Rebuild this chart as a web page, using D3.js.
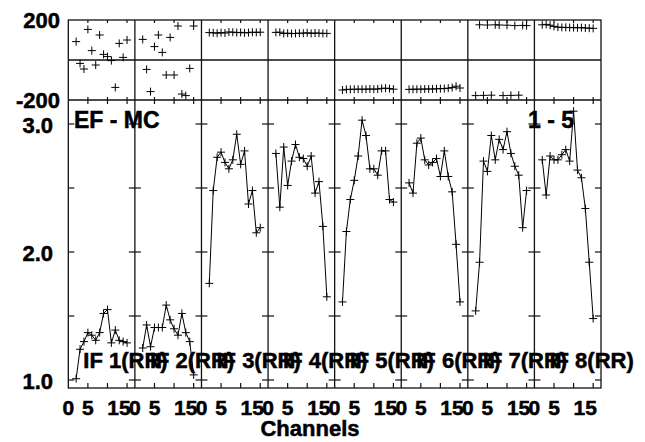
<!DOCTYPE html>
<html><head><meta charset="utf-8">
<script src="https://cdn.jsdelivr.net/npm/d3@7"></script>
<style>
body{margin:0;background:#fff}
svg text{font-family:"Liberation Sans",Arial,Helvetica,sans-serif;font-weight:bold;fill:#000;stroke:#000;stroke-width:0.5px}
</style>
</head><body>
<svg id="chart" width="645" height="442"></svg>
<script>
// ---- data ----
const channels = [2,3,4,5,6,7,8,9,10,11,12,13,14,15];
const ifNames = ["IF 1(RR)","IF 2(RR)","IF 3(RR)","IF 4(RR)","IF 5(RR)","IF 6(RR)","IF 7(RR)","IF 8(RR)"];
const phaseIF1 = [92,-17,-45,153,47,-25,125,28,17,-3,-137,83,13,100];
const phaseIF2 = [103,-47,-158,67,125,38,-75,113,-75,170,-170,-178,-42,170];
const phaseIF3 = [137,136,134,137,135,140,139,137,138,136,137,139,138,139];
const phaseIF4 = [138,139,133,134,132,133,134,134,136,133,135,134,133,133];
const phaseIF5 = [-150,-147,-147,-146,-146,-146,-146,-145,-146,-145,-142,-141,-143,-146];
const phaseIF6 = [-147,-146,-146,-146,-145,-145,-145,-144,-143,-143,-141,-138,-131,-140];
const phaseIF7 = [-178,176,-177,175,-176,176,175,-178,174,-177,172,-176,173,172];
const phaseIF8 = [176,178,174,168,164,163,163,162,162,161,162,160,159,158];
const ampIF1 = [1.01,1.24,1.30,1.37,1.35,1.31,1.37,1.52,1.55,1.29,1.39,1.31,1.30,1.29];
const ampIF2 = [1.25,1.43,1.26,1.41,1.41,1.41,1.585,1.47,1.40,1.35,1.52,1.37,1.30,1.04];
const ampIF3 = [1.755,2.48,2.74,2.78,2.70,2.65,2.72,2.92,2.685,2.79,2.375,2.48,2.15,2.19];
const ampIF4 = [2.77,2.35,2.82,2.52,2.71,2.84,2.74,2.73,2.67,2.75,2.46,2.55,2.20,1.65];
const ampIF5 = [1.61,2.16,2.41,2.56,2.75,3.03,2.91,2.65,2.65,2.60,2.79,2.79,2.41,2.39];
const ampIF6 = [2.54,2.46,2.85,2.89,2.72,2.68,2.70,2.73,2.59,2.79,2.59,2.47,2.06,1.61];
const ampIF7 = [1.54,1.92,2.71,2.63,2.91,2.72,2.88,2.80,2.94,2.77,2.67,2.60,2.19,2.48];
const ampIF8 = [2.72,2.445,2.75,2.72,2.72,2.76,2.80,2.71,3.10,2.64,2.58,2.34,1.92,1.48];
const phaseSeries = [phaseIF1,phaseIF2,phaseIF3,phaseIF4,phaseIF5,phaseIF6,phaseIF7,phaseIF8];
const ampSeries = [ampIF1,ampIF2,ampIF3,ampIF4,ampIF5,ampIF6,ampIF7,ampIF8];
const xTickValues = [5,10,15];
const xLabelValues = [0,5,15];
const ampTickValues = [1.0,1.5,2.0,2.5,3.0];
const ampLabelValues = [1.0,2.0,3.0];
const phaseLabelValues = [-200,200];
const titleLeft = "EF - MC";
const titleRight = "1 - 5";
const xTitle = "Channels";

// ---- layout ----
const svg = d3.select("#chart");
const L = 68.3, R = 601, nP = 8;
const panelScale = d3.scaleLinear().domain([0,nP]).range([L,R]);
const yPh = d3.scaleLinear().domain([-200,200]).range([100,20]);
const yAmp = d3.scaleLinear().domain([0.9375,3.1875]).range([388,100]);
const yTop = yPh(200), yMid = yPh(-200), yBot = yAmp(0.9375);
const cross = "M-4,0H4M0,-4V4";
const line = d3.line();

const frame = svg.append("g").attr("stroke","#111").attr("stroke-width",1.3).attr("fill","none");
frame.append("rect").attr("x",L).attr("y",yTop).attr("width",R-L).attr("height",yBot-yTop);
frame.append("line").attr("x1",L).attr("x2",R).attr("y1",yPh(0)).attr("y2",yPh(0));
frame.append("line").attr("x1",L).attr("x2",R).attr("y1",yMid).attr("y2",yMid);
for (let i=1;i<nP;i++){
  frame.append("line").attr("x1",panelScale(i)).attr("x2",panelScale(i)).attr("y1",yTop).attr("y2",yBot);
}

for (let i=0;i<nP;i++){
  const x0 = panelScale(i), x1 = panelScale(i+1);
  const x = d3.scaleLinear().domain([0,17]).range([x0,x1]);
  const g = svg.append("g");
  const tk = g.append("g").attr("stroke","#111").attr("stroke-width",1.2);
  xTickValues.forEach(t=>{
    tk.append("line").attr("x1",x(t)).attr("x2",x(t)).attr("y1",yTop).attr("y2",yTop+3);
    tk.append("line").attr("x1",x(t)).attr("x2",x(t)).attr("y1",yMid-3).attr("y2",yMid+4);
    tk.append("line").attr("x1",x(t)).attr("x2",x(t)).attr("y1",yBot-5).attr("y2",yBot);
  });
  ampTickValues.forEach(v=>{
    tk.append("line").attr("x1",x0).attr("x2",x0+6).attr("y1",yAmp(v)).attr("y2",yAmp(v));
    tk.append("line").attr("x1",x1-6).attr("x2",x1).attr("y1",yAmp(v)).attr("y2",yAmp(v));
  });
  // x tick labels
  xLabelValues.forEach(t=>{
    g.append("text").attr("x",x(t)).attr("dx",t===15?-8:0).attr("y",415)
      .attr("text-anchor","middle").attr("font-size",21).text(t);
  });
  // phase markers
  g.append("g").selectAll("path").data(channels.map((c,j)=>[x(c),yPh(phaseSeries[i][j])]))
    .join("path").attr("d",cross).attr("transform",d=>`translate(${d[0]},${d[1]})`)
    .attr("stroke","#000").attr("stroke-width",1).attr("fill","none");
  // amplitude line and markers
  const pts = channels.map((c,j)=>[x(c),yAmp(ampSeries[i][j])]);
  g.append("path").attr("d",line(pts)).attr("fill","none").attr("stroke","#000").attr("stroke-width",1);
  g.append("g").selectAll("path").data(pts).join("path").attr("d",cross)
    .attr("transform",d=>`translate(${d[0]},${d[1]})`)
    .attr("stroke","#000").attr("stroke-width",1).attr("fill","none");
  // IF label
  g.append("text").attr("x",x0+15).attr("y",368).attr("font-size",22).text(ifNames[i]);
}

// y labels
phaseLabelValues.forEach(v=>{
  svg.append("text").attr("x",60).attr("y",yPh(v)).attr("dy","0.36em").attr("text-anchor","end")
    .attr("font-size",22).text(v);
});
ampLabelValues.forEach(v=>{
  svg.append("text").attr("x",53).attr("y",yAmp(v)).attr("dy","0.42em").attr("text-anchor","end")
    .attr("font-size",22).text(d3.format(".1f")(v));
});
svg.append("text").attr("x",74).attr("y",128).attr("font-size",23).text(titleLeft);
svg.append("text").attr("x",574).attr("y",128).attr("text-anchor","end").attr("font-size",23).text(titleRight);
svg.append("text").attr("x",310).attr("y",436).attr("text-anchor","middle").attr("font-size",22).text(xTitle);
</script>
</body></html>
